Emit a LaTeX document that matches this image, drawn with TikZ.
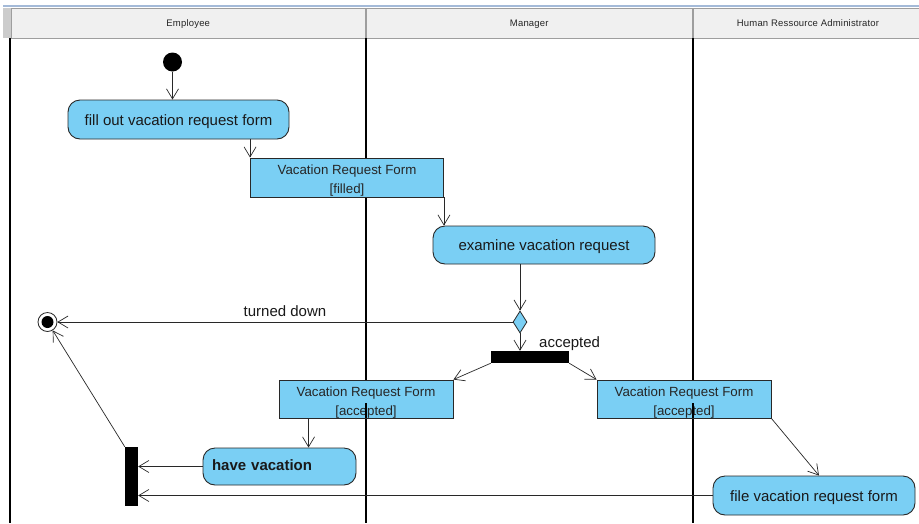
\documentclass[tikz,border=0pt]{standalone}
\usepackage{fontspec}
\setmainfont{Liberation Sans}
\usetikzlibrary{arrows.meta,shapes.geometric,calc}

\definecolor{actfill}{RGB}{122,207,244}
\definecolor{laneband}{RGB}{240,240,240}
\definecolor{laneedge}{RGB}{158,158,158}
\definecolor{topbar}{RGB}{164,186,216}
\definecolor{inkline}{RGB}{40,40,40}

\tikzset{
  activity/.style={rectangle, rounded corners=12pt, draw=inkline, line width=0.9pt,
    fill=actfill, inner sep=0pt, font=\fontsize{15}{18}\selectfont,
    text height=11pt, text depth=0pt, text=black!90},
  objbox/.style={rectangle, draw=inkline, line width=0.9pt, fill=actfill, inner sep=0pt},
  objtext/.style={font=\fontsize{13.3}{16}\selectfont, inner sep=0pt, anchor=base, text=black!85},
  flow/.style={draw=inkline, line width=0.7pt,
    -{Straight Barb[length=10pt,width=12pt,line width=0.7pt]}},
  syncbar/.style={rectangle, fill=black, inner sep=0pt},
  lane/.style={line width=2pt, black},
  hdr/.style={rectangle, draw=laneedge, fill=laneband, line width=0.8pt, inner sep=0pt,
    minimum height=30pt, text height=7pt, text depth=0pt,
    font=\fontsize{9.5}{11}\selectfont\addfontfeature{LetterSpace=2}, text=black!85},
  guard/.style={font=\fontsize{15}{18}\selectfont, text=black!90},
}

\begin{document}
\begin{tikzpicture}[x=1pt,y=-1pt]
\useasboundingbox (0,0) rectangle (919,523);
\fill[white] (0,0) rectangle (919,523);

% swimlane headers
\draw[topbar, line width=2pt] (3,5.5) -- (919,5.5);
\fill[laneband!85!black] (3,8) rectangle (11,38);
\node[hdr, minimum width=354.5pt] (hEmp) at (188.25,23) {Employee};
\node[hdr, minimum width=326.5pt] (hMan) at (529.25,23) {Manager};
\node[hdr, minimum width=230pt] (hHR) at (808,23) {Human Ressource Administrator};

% swimlane separators
\draw[lane] (10,38) -- (10,523);
\draw[lane] (366,38) -- (366,523);
\draw[lane] (693,38) -- (693,523);

% nodes
\node[circle, fill=black, minimum size=19pt, inner sep=0pt] (init) at (172.5,62) {};
\node[activity, minimum width=221pt, minimum height=39pt] (fill) at (178.5,119.5) {fill out vacation request form};
\node[objbox, minimum width=193pt, minimum height=39pt] (ofilled) at (347,177.5) {};
\node[objtext] (ofilledA) at ($(ofilled.north)+(0,17)$) {Vacation Request Form};
\node[objtext] (ofilledB) at ($(ofilled.north)+(0,36)$) {[filled]};
\node[activity, minimum width=222pt, minimum height=38pt] (exam) at (544,245) {examine vacation request};
\node[diamond, draw=inkline, fill=actfill, line width=0.8pt, minimum width=14pt,
      minimum height=22pt, inner sep=0pt] (dec) at (520,322) {};
\node[circle, draw=inkline, fill=white, line width=0.8pt, minimum size=19pt, inner sep=0pt,
      path picture={\fill[black] (path picture bounding box.center) circle (6pt);}] (fin) at (47.5,322) {};
\node[syncbar, minimum width=78pt, minimum height=12pt] (fork) at (530,357) {};
\node[objbox, minimum width=174pt, minimum height=38pt] (oaccL) at (366,399) {};
\node[objtext] (oaccLA) at ($(oaccL.north)+(0,17)$) {Vacation Request Form};
\node[objtext] (oaccLB) at ($(oaccL.north)+(0,36)$) {[accepted]};
\node[objbox, minimum width=174pt, minimum height=38pt] (oaccR) at (684,399) {};
\node[objtext] (oaccRA) at ($(oaccR.north)+(0,17)$) {Vacation Request Form};
\node[objtext] (oaccRB) at ($(oaccR.north)+(0,36)$) {[accepted]};
\node[activity, minimum width=153pt, minimum height=37pt, inner xsep=9pt, text width=135pt,
      align=left, text height=7pt, font=\fontsize{15}{18}\selectfont\bfseries] (have) at (279.5,466.5) {have vacation};
\node[activity, minimum width=202pt, minimum height=39pt] (filing) at (814,495.5) {file vacation request form};
\node[syncbar, minimum width=13pt, minimum height=59pt] (join) at (131.5,476.5) {};

% lane lines showing through the lower part of the accepted forms
\draw[lane] (366,403) -- (oaccL.south -| 366,0);
\draw[lane] (693,403) -- (oaccR.south -| 693,0);

% connector end points
\coordinate (haveIn) at ($(oaccL.south west)+(30,0)$);
\coordinate (filingIn) at ($(filing.north)+(5,0)$);

% control and object flows
\draw[flow] (init.south) -- (init.south |- fill.north);
\draw[flow] (fill.south -| ofilled.north west) -- (ofilled.north west);
\draw[flow] (ofilled.south east) -- (ofilled.south east |- exam.north);
\draw[flow] (dec |- exam.south) -- (dec.north);
\draw[flow] (dec.west) -- node[midway, anchor=south, inner sep=5pt, guard] (tdown) {turned down} (fin.east);
\draw[flow] (dec.south) -- (dec.south |- fork.north);
\node[guard, anchor=base west, inner sep=0pt] (acc) at (539,347.5) {accepted};
\draw[flow] (fork.south west) -- (oaccL.north east);
\draw[flow] (fork.south east) -- (oaccR.north west);
\draw[flow] (haveIn) -- (haveIn |- have.north);
\draw[flow] (oaccR.south east) -- (filingIn);
\draw[flow] (have.west) -- (join.east |- have.west);
\draw[flow] (filing.west) -- (join.east |- filing.west);
\draw[flow] (join.north west) -- (fin);
\end{tikzpicture}
\end{document}
